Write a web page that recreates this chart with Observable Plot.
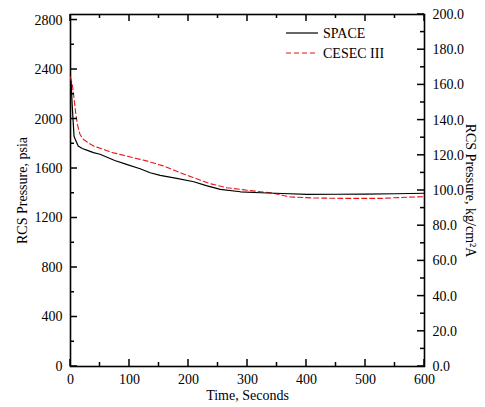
<!DOCTYPE html>
<html><head><meta charset="utf-8">
<script src="https://cdn.jsdelivr.net/npm/d3@7"></script>
<script src="https://cdn.jsdelivr.net/npm/@observablehq/plot@0.6"></script>
<style>body{margin:0;background:#fff}</style>
</head><body><div id="chart"></div>
<script>
const PSI_PER_KG = 14.2233;
const seriesNames = ["SPACE", "CESEC III"];
const spaceT   = [0, 1, 3, 6, 8, 13, 20, 27.5, 39, 50, 75, 95, 118, 135, 152, 180, 209, 230, 254, 288, 322, 360, 401, 450, 500, 550, 600];
const spacePsi = [2280, 2300, 2100, 1860, 1836, 1782, 1762, 1749, 1728, 1715, 1665, 1634, 1598, 1566, 1545, 1520, 1493, 1462, 1432, 1412, 1404, 1398, 1391, 1392, 1393, 1396, 1400];
const cesecT   = [0, 3, 6, 9, 12, 16, 22, 30, 40, 55, 70, 95, 130, 158, 186, 209, 237, 265, 300, 339, 373, 410, 458, 526, 582, 600];
const cesecPsi = [2340, 2280, 2170, 2040, 1950, 1877, 1835, 1808, 1780, 1757, 1730, 1701, 1660, 1620, 1566, 1526, 1477, 1445, 1424, 1404, 1370, 1362, 1359, 1359, 1370, 1372];
const xMajor = [0, 100, 200, 300, 400, 500, 600];
const xMinor = [50, 150, 250, 350, 450, 550];
const psiMajor = [0, 400, 800, 1200, 1600, 2000, 2400, 2800];
const psiMinor = [200, 600, 1000, 1400, 1800, 2200, 2600];
const kgMajor = [0, 20, 40, 60, 80, 100, 120, 140, 160, 180, 200];
const kgMinor = [10, 30, 50, 70, 90, 110, 130, 150, 170, 190];

const space = spaceT.map((t, i) => ({t, p: spacePsi[i]}));
const cesec = cesecT.map((t, i) => ({t, p: cesecPsi[i]}));
const font = "Liberation Serif, Times New Roman, serif";
const MAJ = 7, MIN = 4;

const chart = Plot.plot({
  width: 485, height: 407,
  marginLeft: 70, marginRight: 61, marginTop: 14, marginBottom: 41,
  style: {fontFamily: font, fontSize: "14px", color: "#000", background: "#fff"},
  x: {domain: [0, 600]},
  y: {domain: [0, 200 * PSI_PER_KG]},
  marks: [
    Plot.axisX({anchor: "bottom", ticks: xMajor, tickSize: 0, tickPadding: 8, label: null, fontFamily: font}),
    Plot.axisY({anchor: "left", ticks: psiMajor, tickSize: 0, tickPadding: 8, tickFormat: d => String(d), label: null, fontFamily: font}),
    Plot.axisY({anchor: "right", ticks: kgMajor.map(k => k * PSI_PER_KG), tickSize: 0, tickPadding: 8, tickFormat: d => (d / PSI_PER_KG).toFixed(1), label: null, fontFamily: font}),
    Plot.frame({stroke: "#000", strokeWidth: 1.6}),
    Plot.line(cesec, {x: "t", y: "p", stroke: "#e8141a", strokeWidth: 1.1, strokeDasharray: "5,3"}),
    Plot.line(space, {x: "t", y: "p", stroke: "#000", strokeWidth: 1.2}),
    Plot.text(["RCS Pressure, psia"], {text: d => d, frameAnchor: "left", rotate: -90, dx: -48, textAnchor: "middle", fontSize: 14, fontFamily: font}),
    Plot.text(["RCS Pressure, kg/cm²A"], {text: d => d, frameAnchor: "right", rotate: 90, dx: 46, textAnchor: "middle", fontSize: 14, fontFamily: font}),
    Plot.text(["Time, Seconds"], {text: d => d, frameAnchor: "bottom", dy: 33, textAnchor: "middle", fontSize: 14, fontFamily: font})
  ]
});

// inward tick marks positioned through Plot's own scales
const sx = chart.scale("x"), sy = chart.scale("y");
const [x0, x1] = sx.range, [y0, y1] = sy.range; // y0 bottom, y1 top
const svg = d3.select(chart);
const ticks = svg.append("g").attr("stroke", "#000").attr("stroke-width", 1.5);
const addX = (vals, len) => vals.forEach(v => {
  const px = sx.apply(v);
  ticks.append("line").attr("x1", px).attr("x2", px).attr("y1", y0).attr("y2", y0 - len);
  ticks.append("line").attr("x1", px).attr("x2", px).attr("y1", y1).attr("y2", y1 + len);
});
const addYL = (vals, len) => vals.forEach(v => {
  const py = sy.apply(v);
  ticks.append("line").attr("x1", x0).attr("x2", x0 + len).attr("y1", py).attr("y2", py);
});
const addYR = (vals, len) => vals.forEach(v => {
  const py = sy.apply(v * PSI_PER_KG);
  ticks.append("line").attr("x1", x1).attr("x2", x1 - len).attr("y1", py).attr("y2", py);
});
addX(xMajor, MAJ); addX(xMinor, MIN);
addYL(psiMajor, MAJ); addYL(psiMinor, MIN);
addYR(kgMajor, MAJ); addYR(kgMinor, MIN);

const legend = svg.append("g").attr("font-family", font).attr("font-size", 14).attr("text-anchor", "start");
const legendItems = [
  {name: seriesNames[0], stroke: "#000", dash: null},
  {name: seriesNames[1], stroke: "#e8141a", dash: "5,3"}
];
legendItems.forEach((d, i) => {
  const y = 33 + i * 20;
  legend.append("line").attr("x1", 286).attr("x2", 318).attr("y1", y).attr("y2", y)
    .attr("stroke", d.stroke).attr("stroke-width", 1.2).attr("stroke-dasharray", d.dash);
  legend.append("text").attr("x", 323).attr("y", y).attr("dy", "0.35em").attr("text-anchor", "start").text(d.name);
});
document.getElementById("chart").append(chart);
</script></body></html>
